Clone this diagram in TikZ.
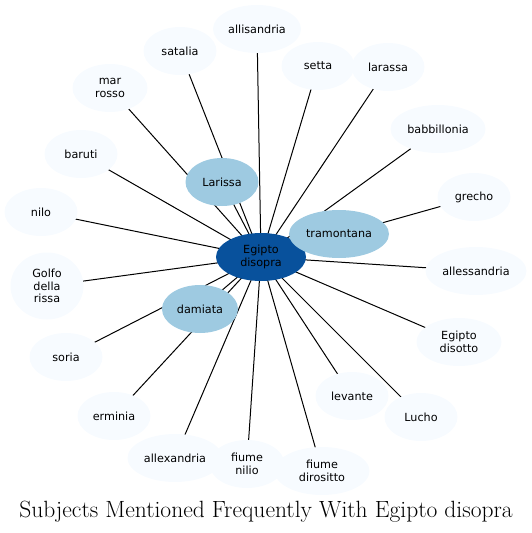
\documentclass[tikz,border=0pt]{standalone}
\usepackage{fontspec}
\newfontfamily\dvsans{DejaVu Sans}
\usetikzlibrary{shapes.geometric}
\definecolor{pale}{HTML}{F7FBFF}
\definecolor{mid}{HTML}{9ECAE1}
\definecolor{deep}{HTML}{08519C}
\pgfdeclarelayer{bg}
\pgfsetlayers{bg,main}
\tikzset{
  ent/.style={ellipse, fill=pale, inner sep=0pt, minimum width=73pt, minimum height=48pt,
    font=\dvsans\fontsize{11.2}{12.4}\selectfont, align=center, text=black},
  hub/.style={ent, fill=mid},
  core/.style={ent, fill=deep, minimum width=90pt},
  link/.style={draw=black, line width=1pt}
}
\begin{document}
\begin{tikzpicture}[x=1pt,y=-1pt]
\useasboundingbox (0,0) rectangle (532,533);
\node[core] (c) at (261,257) {Egipto\\disopra};
\node[hub] (lar) at (222,182) {Larissa};
\node[hub, minimum width=100pt] (tra) at (339,234) {tramontana};
\node[hub, minimum width=76pt] (dam) at (200,309) {damiata};
\node[ent, minimum width=88pt] (all) at (257,29) {allisandria};
\node[ent] (sat) at (180,51) {satalia};
\node[ent, minimum width=75pt] (mar) at (110,88) {mar\\rosso};
\node[ent] (bar) at (81,154) {baruti};
\node[ent] (nil) at (41,212) {nilo};
\node[ent, minimum height=67pt] (gol) at (47,286) {Golfo\\della\\rissa};
\node[ent] (sor) at (66,357) {soria};
\node[ent] (erm) at (114,416) {erminia};
\node[ent, minimum width=95pt] (alx) at (175,458) {allexandria};
\node[ent, minimum width=75pt] (fn) at (247,464) {fiume\\nilio};
\node[ent, minimum width=95pt] (fd) at (322,471) {fiume\\dirositto};
\node[ent] (lev) at (352,396) {levante};
\node[ent] (luc) at (421,417) {Lucho};
\node[ent, minimum width=85pt] (ed) at (459,342) {Egipto\\disotto};
\node[ent, minimum width=101pt] (als) at (476,271) {allessandria};
\node[ent] (gre) at (474,197) {grecho};
\node[ent, minimum width=95pt] (bab) at (438,129) {babbillonia};
\node[ent] (lrs) at (388,67) {larassa};
\node[ent] (set) at (318,66) {setta};
\begin{pgfonlayer}{bg}
\foreach \n in {lar,tra,dam,all,sat,mar,bar,nil,gol,sor,erm,alx,fn,fd,lev,luc,ed,als,gre,bab,lrs,set}
  \draw[link] (c.center) -- (\n.center);
\end{pgfonlayer}
\node[font=\fontsize{23.5}{28}\selectfont, anchor=base] (title) at (266,517) {Subjects Mentioned Frequently With Egipto disopra};
\end{tikzpicture}
\end{document}
